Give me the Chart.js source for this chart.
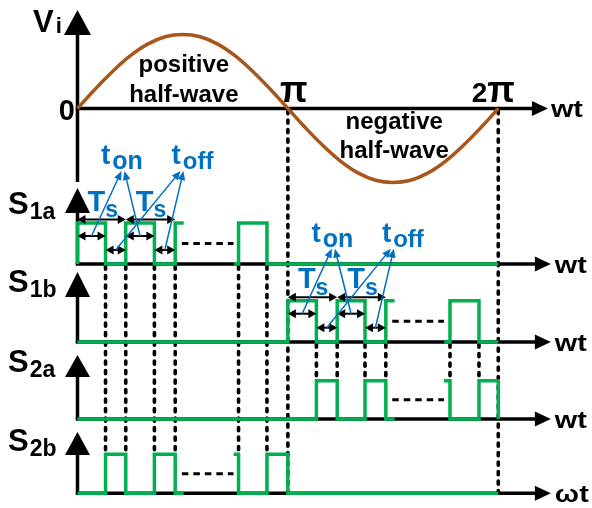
<!DOCTYPE html>
<html>
<head>
<meta charset="utf-8">
<script src="https://cdn.jsdelivr.net/npm/chart.js@4/dist/chart.umd.min.js"></script>
<style>
  html, body { margin: 0; padding: 0; background: #fff; }
  #wrap { width: 592px; height: 508px; }
</style>
</head>
<body>
<div id="wrap"><canvas id="c" width="592" height="508"></canvas></div>
<script>
// ---- Input voltage over one mains period (angle in degrees of ωt, value normalised to peak) ----
const sineAngles = [0, 15, 30, 45, 60, 75, 90, 105, 120, 135, 150, 165, 180,
                    195, 210, 225, 240, 255, 270, 285, 300, 315, 330, 345, 360];
const sineValues = [0, 0.26, 0.5, 0.71, 0.87, 0.97, 1, 0.97, 0.87, 0.71, 0.5, 0.26, 0,
                    -0.26, -0.5, -0.71, -0.87, -0.97, -1, -0.97, -0.87, -0.71, -0.5, -0.26, 0];

// ---- Gate signals: edge angle (deg) and the state held from that edge (1 = on, 0 = off, null = omitted stretch) ----
const s1aAngles = [0, 0, 24, 41.3, 65.8, 83.6, 90.9, 112, 134, 137.8, 162.1, 360];
const s1aStates = [0, 1, 0, 1, 0, 1, 1, null, 0, 1, 0, 0];
const s1bAngles = [0, 180, 204.4, 222.2, 246, 263.8, 271.3, 292, 313.7, 318.7, 343.5, 360];
const s1bStates = [0, 1, 0, 1, 0, 1, 1, null, 0, 1, 0, 0];
const s2aAngles = [0, 204.4, 222.2, 246, 263.8, 271.3, 292, 313.5, 318.7, 343.5, 360];
const s2aStates = [0, 1, 0, 1, 0, 0, null, 1, 0, 1, 0];
const s2bAngles = [0, 24, 41.3, 65.8, 83.6, 90.9, 112, 133.5, 137.8, 162.1, 180, 360];
const s2bStates = [0, 1, 0, 1, 0, 0, null, 1, 0, 1, 0, 0];

// Switching edges marked by dotted guide lines
const posEdges = [24, 41.3, 65.8, 83.6, 137.8, 162.1];
const negEdges = [204.4, 222.2, 246, 263.8, 318.7, 343.5];
const halfEdges = [180, 360];

// Omitted stretches of the pulse trains ("- - -")
const gapPos = [89.3, 133.5];
const gapNeg = [269.3, 313.5];

// Switching period, on-time and off-time spans (deg)
const tsSpansPos = [[0, 41.3], [41.3, 83.6]];
const onSpansPos = [[0, 24], [41.3, 65.8]];
const offSpansPos = [[24, 41.3], [65.8, 83.6]];
const tsSpansNeg = [[180, 222.2], [222.2, 263.8]];
const onSpansNeg = [[180, 204.4], [222.2, 246]];
const offSpansNeg = [[204.4, 222.2], [246, 263.8]];

// Tick and axis labels
const tickValues = [0, 180, 360];
const tickLabels = ['0', 'π', '2π'];
const signalNames = ['1a', '1b', '2a', '2b'];
const axisNames = ['wt', 'wt', 'wt', 'ωt'];

// ---- Layout (vertical positions in canvas rows) ----
const VI_AXIS = 108.5, VI_AMP = 74;
const PANELS = [
  { base: 264,   height: 41,   tip: 188, head: 213, labelY: 214 },
  { base: 342,   height: 41.3, tip: 272, head: 297, labelY: 292 },
  { base: 419,   height: 38.3, tip: 355, head: 377, labelY: 372 },
  { base: 493.3, height: 39,   tip: 432, head: 455, labelY: 451 }
];
const X_MIN = -66.3, X_MAX = 440.2;
const AXIS_END_VI = 402.5, AXIS_END_S = 405;

const GREEN = '#00B050', BLUE = '#0070C0', BROWN = '#A9561B', BLACK = '#000000';
const FONT = '"Liberation Sans", Arial, Helvetica, sans-serif';

const lvl = (p, s) => (s === null ? null : PANELS[p].base - s * PANELS[p].height);
const wave = (p, angles, states) => angles.map((a, i) => ({ x: a, y: lvl(p, states[i]) }));

function guides(edges, top, bottom) {
  const pts = [];
  edges.forEach(e => { pts.push({ x: e, y: top }, { x: e, y: bottom }, { x: e, y: null }); });
  return pts;
}
function gapDashes(gap, panels) {
  const pts = [];
  panels.forEach(p => { pts.push({ x: gap[0], y: lvl(p, 0.5) }, { x: gap[1], y: lvl(p, 0.5) }, { x: gap[1], y: null }); });
  return pts;
}

const sineData = sineAngles.map((a, i) => ({ x: a, y: VI_AXIS - sineValues[i] * VI_AMP }));

const stepStyle = { borderColor: GREEN, borderWidth: 3.5, stepped: true, pointRadius: 0,
                    spanGaps: false, fill: false, borderJoinStyle: 'miter', order: 0 };
const dotStyle = { borderColor: BLACK, borderWidth: 3.6, borderDash: [3.2, 6.3], borderCapStyle: 'round',
                   pointRadius: 0, spanGaps: false, fill: false, order: 2 };

const datasets = [
  { label: 'Vi', data: sineData, borderColor: BROWN, borderWidth: 3.5, tension: 0.4,
    pointRadius: 0, fill: false, order: 1 },
  Object.assign({ label: 'S1a', data: wave(0, s1aAngles, s1aStates) }, stepStyle),
  Object.assign({ label: 'S1b', data: wave(1, s1bAngles, s1bStates) }, stepStyle),
  Object.assign({ label: 'S2a', data: wave(2, s2aAngles, s2aStates) }, stepStyle),
  Object.assign({ label: 'S2b', data: wave(3, s2bAngles, s2bStates) }, stepStyle),
  Object.assign({ label: 'pos edges', data: guides(posEdges, PANELS[0].base + 2, lvl(3, 1)) }, dotStyle),
  Object.assign({ label: 'neg edges', data: guides(negEdges, PANELS[1].base + 2, lvl(2, 1)) }, dotStyle),
  Object.assign({ label: 'half edges', data: guides(halfEdges, VI_AXIS + 2, PANELS[3].base) }, dotStyle),
  Object.assign({ label: 'gap pos', data: gapDashes(gapPos, [0, 3]) }, dotStyle,
                { borderWidth: 3, borderDash: [6.5, 5], borderCapStyle: 'butt' }),
  Object.assign({ label: 'gap neg', data: gapDashes(gapNeg, [1, 2]) }, dotStyle,
                { borderWidth: 3, borderDash: [6.5, 5], borderCapStyle: 'butt' })
];

// ---- drawing helpers ----
function text(ctx, s, x, y, size, color, align, sx) {
  ctx.save();
  ctx.font = 'bold ' + size + 'px ' + FONT;
  ctx.fillStyle = color;
  ctx.textAlign = align || 'left';
  ctx.textBaseline = 'alphabetic';
  ctx.translate(x, y);
  ctx.scale(sx || 1, 1);
  ctx.fillText(s, 0, 0);
  const w = ctx.measureText(s).width * (sx || 1);
  ctx.restore();
  return w;
}
function subText(ctx, main, sub, x, y, mSize, sSize, drop, color, gap) {
  const w = text(ctx, main, x, y, mSize, color);
  text(ctx, sub, x + w + (gap || 0), y + drop, sSize, color);
}
function head(ctx, x, y, ang, len, half) {
  const c = Math.cos(ang), s = Math.sin(ang);
  ctx.beginPath();
  ctx.moveTo(x, y);
  ctx.lineTo(x - len * c + half * s, y - len * s - half * c);
  ctx.lineTo(x - len * c - half * s, y - len * s + half * c);
  ctx.closePath();
  ctx.fill();
}
function dblArrow(ctx, x1, x2, y) {
  ctx.save();
  ctx.strokeStyle = BLACK; ctx.fillStyle = BLACK; ctx.lineWidth = 2;
  ctx.beginPath(); ctx.moveTo(x1 + 4, y); ctx.lineTo(x2 - 4, y); ctx.stroke();
  head(ctx, x1, y, Math.PI, 8, 4.5);
  head(ctx, x2, y, 0, 8, 4.5);
  ctx.restore();
}
function pointer(ctx, x1, y1, x2, y2) {
  ctx.save();
  ctx.strokeStyle = BLUE; ctx.fillStyle = BLUE; ctx.lineWidth = 1.5;
  const ang = Math.atan2(y2 - y1, x2 - x1);
  ctx.beginPath(); ctx.moveTo(x1, y1);
  ctx.lineTo(x2 - 6 * Math.cos(ang), y2 - 6 * Math.sin(ang)); ctx.stroke();
  head(ctx, x2, y2, ang, 9, 3.8);
  ctx.restore();
}

const diagram = {
  id: 'diagram',
  beforeDatasetsDraw(chart) {
    const ctx = chart.ctx, X = v => chart.scales.x.getPixelForValue(v), Y = v => chart.scales.y.getPixelForValue(v);
    const x0 = X(0);
    ctx.save();
    ctx.strokeStyle = BLACK; ctx.fillStyle = BLACK; ctx.lineWidth = 3.5;
    // Vi axes
    ctx.beginPath(); ctx.moveTo(x0, Y(34)); ctx.lineTo(x0, Y(182)); ctx.stroke();
    head(ctx, x0, Y(10), -Math.PI / 2, 25, 13.5);
    ctx.beginPath(); ctx.moveTo(x0 - 1.75, Y(VI_AXIS)); ctx.lineTo(X(AXIS_END_VI) - 10, Y(VI_AXIS)); ctx.stroke();
    head(ctx, X(AXIS_END_VI), Y(VI_AXIS), 0, 16, 7.5);
    // gate-signal axes
    PANELS.forEach(p => {
      ctx.beginPath(); ctx.moveTo(x0, Y(p.head - 1)); ctx.lineTo(x0, Y(p.base)); ctx.stroke();
      head(ctx, x0, Y(p.tip), -Math.PI / 2, p.head - p.tip, 12.5);
      ctx.beginPath(); ctx.moveTo(x0 - 1.75, Y(p.base)); ctx.lineTo(X(AXIS_END_S) - 10, Y(p.base)); ctx.stroke();
      head(ctx, X(AXIS_END_S), Y(p.base), 0, 16, 7.5);
    });
    ctx.restore();
  },
  afterDatasetsDraw(chart) {
    const ctx = chart.ctx, X = v => chart.scales.x.getPixelForValue(v), Y = v => chart.scales.y.getPixelForValue(v);

    // Timing annotations on S1a and S1b
    const annotate = (p, ts, on, off) => {
      const hi = Y(PANELS[p].base - PANELS[p].height);
      const yTs = hi - 3.5, yOn = hi + 13, yOff = hi + 27;
      ts.forEach(s => dblArrow(ctx, X(s[0]), X(s[1]), yTs));
      on.forEach(s => dblArrow(ctx, X(s[0]), X(s[1]), yOn));
      off.forEach(s => dblArrow(ctx, X(s[0]), X(s[1]), yOff));
      const start = X(ts[0][0]);
      const yTip = yTs - 48.5;
      on.forEach((s, i) => pointer(ctx, (X(s[0]) + X(s[1])) / 2, yOn, start + [44, 47][i], yTip));
      off.forEach((s, i) => pointer(ctx, (X(s[0]) + X(s[1])) / 2, yOff, start + [103, 106][i], yTip));
      ts.forEach(s => subText(ctx, 'T', 's', X(s[0]) + 10, yTs - 9, 29, 23, 6.5, BLUE, 0));
      subText(ctx, 't', 'on', start + 23.5, yTs - 55.5, 28, 25, 5, BLUE, 2);
      subText(ctx, 't', 'off', start + 94, yTs - 55.5, 28, 24, 5, BLUE, 2);
    };
    annotate(0, tsSpansPos, onSpansPos, offSpansPos);
    annotate(1, tsSpansNeg, onSpansNeg, offSpansNeg);

    // Vi axis labels
    subText(ctx, 'V', 'i', 33, 32, 31, 22, 1, BLACK, 2);
    text(ctx, axisNames[0], X(AXIS_END_VI) + 3, Y(VI_AXIS) + 8.5, 23, BLACK, 'left', 1.25);
    // 0, π, 2π
    text(ctx, tickLabels[0], X(tickValues[0]) - 2.5, Y(VI_AXIS) + 11.5, 29, BLACK, 'right');
    text(ctx, tickLabels[1], X(tickValues[1]) + 6, Y(VI_AXIS) - 6.5, 36, BLACK, 'center');
    {
      const cx = X(tickValues[2]) - 5, yb = Y(VI_AXIS) - 6.5;
      ctx.save();
      ctx.font = 'bold 28px ' + FONT; const w2 = ctx.measureText('2').width;
      ctx.font = 'bold 36px ' + FONT; const wp = ctx.measureText('π').width;
      ctx.restore();
      const lx = cx - (w2 + wp) / 2;
      text(ctx, '2', lx, yb, 28, BLACK);
      text(ctx, 'π', lx + w2, yb, 36, BLACK);
    }
    // half-wave captions
    text(ctx, 'positive', X(91), 72, 24, BLACK, 'center');
    text(ctx, 'half-wave', X(91), 101.5, 24, BLACK, 'center');
    text(ctx, 'negative', X(271), 128.5, 24, BLACK, 'center');
    text(ctx, 'half-wave', X(271), 158.3, 24, BLACK, 'center');

    // gate-signal labels
    PANELS.forEach((p, i) => {
      subText(ctx, 'S', signalNames[i], 8, p.labelY, 31, 23, 4.5, BLACK, 1);
      text(ctx, axisNames[i], X(AXIS_END_S) + 4, Y(p.base) + 9, 23, BLACK, 'left', 1.25);
    });
  }
};

new Chart(document.getElementById('c'), {
  type: 'line',
  data: { datasets },
  options: {
    responsive: false,
    devicePixelRatio: 1,
    animation: false,
    events: [],
    layout: { padding: 0 },
    plugins: { legend: { display: false }, tooltip: { enabled: false } },
    scales: {
      x: { type: 'linear', min: X_MIN, max: X_MAX, display: false },
      y: { type: 'linear', min: 0, max: 508, reverse: true, display: false }
    }
  },
  plugins: [diagram]
});
</script>
</body>
</html>
